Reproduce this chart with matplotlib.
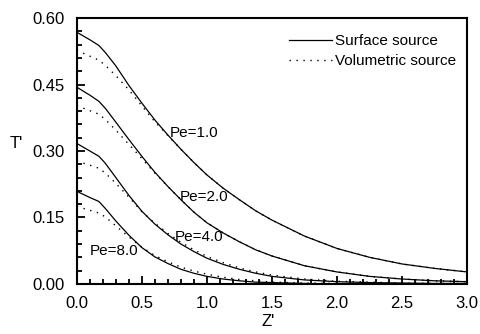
#!/usr/bin/env python3
"""
Dimensionless temperature T' along Z' for surface vs volumetric source.
"""
import matplotlib
matplotlib.use("Agg")
import matplotlib.pyplot as plt
from matplotlib.ticker import MultipleLocator, FormatStrFormatter

z = [0.0, 0.1, 0.17, 0.22, 0.3, 0.4, 0.5, 0.6, 0.7, 0.8, 0.9, 1.0, 1.125, 1.25, 1.375,
     1.5, 1.75, 2.0, 2.25, 2.5, 2.75, 3.0]

surf_pe1 = [0.568, 0.551, 0.538, 0.522, 0.492, 0.448, 0.408, 0.370, 0.336, 0.304, 0.274, 0.246,
            0.216, 0.190, 0.165, 0.144, 0.108, 0.080, 0.060, 0.045, 0.035, 0.027]
vol_pe1 = [0.527, 0.514, 0.505, 0.493, 0.470, 0.438, 0.402, 0.366, 0.335, 0.304, 0.274, 0.246,
           0.216, 0.190, 0.165, 0.144, 0.108, 0.080, 0.060, 0.045, 0.035, 0.027]

surf_pe2 = [0.444, 0.426, 0.412, 0.396, 0.365, 0.326, 0.288, 0.252, 0.220, 0.190, 0.162, 0.138,
            0.115, 0.095, 0.077, 0.063, 0.041, 0.027, 0.017, 0.011, 0.007, 0.005]
vol_pe2 = [0.402, 0.391, 0.383, 0.371, 0.347, 0.315, 0.283, 0.250, 0.220, 0.190, 0.162, 0.138,
           0.115, 0.095, 0.077, 0.063, 0.041, 0.027, 0.017, 0.011, 0.007, 0.005]

surf_pe4 = [0.317, 0.300, 0.288, 0.272, 0.240, 0.200, 0.164, 0.135, 0.111, 0.090, 0.073, 0.058,
            0.044, 0.033, 0.024, 0.017, 0.009, 0.005, 0.003, 0.002, 0.001, 0.001]
vol_pe4 = [0.277, 0.268, 0.261, 0.250, 0.227, 0.196, 0.163, 0.137, 0.114, 0.094, 0.077, 0.062,
           0.048, 0.036, 0.027, 0.020, 0.011, 0.006, 0.004, 0.002, 0.001, 0.001]

surf_pe8 = [0.209, 0.195, 0.186, 0.170, 0.142, 0.110, 0.082, 0.061, 0.046, 0.033, 0.024, 0.017,
            0.011, 0.007, 0.004, 0.003, 0.001, 0.0, 0.0, 0.0, 0.0, 0.0]
vol_pe8 = [0.175, 0.166, 0.160, 0.151, 0.131, 0.106, 0.083, 0.064, 0.050, 0.038, 0.029, 0.022,
           0.015, 0.010, 0.007, 0.004, 0.002, 0.001, 0.0, 0.0, 0.0, 0.0]

pe_labels = ["Pe=1.0", "Pe=2.0", "Pe=4.0", "Pe=8.0"]
label_z = [0.715, 0.79, 0.755, 0.10]
label_t = [0.340, 0.195, 0.105, 0.075]

plt.rcParams["font.family"] = ["Liberation Sans", "DejaVu Sans"]


def main() -> None:
    fig = plt.figure(figsize=(4.8, 3.34), dpi=100)
    ax = fig.add_axes([0.160, 0.150, 0.813, 0.796])

    surf = [surf_pe1, surf_pe2, surf_pe4, surf_pe8]
    vol = [vol_pe1, vol_pe2, vol_pe4, vol_pe8]
    for i, (s, v) in enumerate(zip(surf, vol)):
        ax.plot(z, s, color="black", lw=0.9, label="Surface source" if i == 0 else None)
        ax.plot(z, v, color="black", lw=1.0, linestyle=(0, (1, 4)),
                label="Volumetric source" if i == 0 else None)

    for txt, x, y in zip(pe_labels, label_z, label_t):
        ax.text(x, y, txt, fontsize=11, ha="left", va="center")

    ax.set_xlim(0, 3.0)
    ax.set_ylim(0, 0.60)
    ax.xaxis.set_major_locator(MultipleLocator(0.5))
    ax.xaxis.set_minor_locator(MultipleLocator(0.1))
    ax.yaxis.set_major_locator(MultipleLocator(0.15))
    ax.yaxis.set_minor_locator(MultipleLocator(0.03))
    ax.xaxis.set_major_formatter(FormatStrFormatter("%.1f"))
    ax.yaxis.set_major_formatter(FormatStrFormatter("%.2f"))
    ax.tick_params(which="both", direction="in", top=False, right=False, labelsize=12, width=1.3)
    ax.tick_params(which="major", length=6)
    ax.tick_params(which="minor", length=3.5)
    ax.tick_params(axis="x", pad=9)
    ax.tick_params(axis="y", pad=9)
    for sp in ax.spines.values():
        sp.set_linewidth(1.5)

    ax.set_xlabel("Z'", fontsize=12, labelpad=0)
    ax.set_ylabel("T'", fontsize=12, rotation=0, labelpad=0)
    ax.yaxis.set_label_coords(-0.155, 0.5)
    ax.xaxis.set_label_coords(0.49, -0.115)

    ax.legend(loc="upper right", bbox_to_anchor=(0.995, 0.975), frameon=False, fontsize=11,
              handlelength=2.8, handletextpad=0.2, labelspacing=0.4, borderaxespad=0.2)

    fig.savefig("out.png", dpi=100)
    plt.close(fig)


if __name__ == "__main__":
    main()
